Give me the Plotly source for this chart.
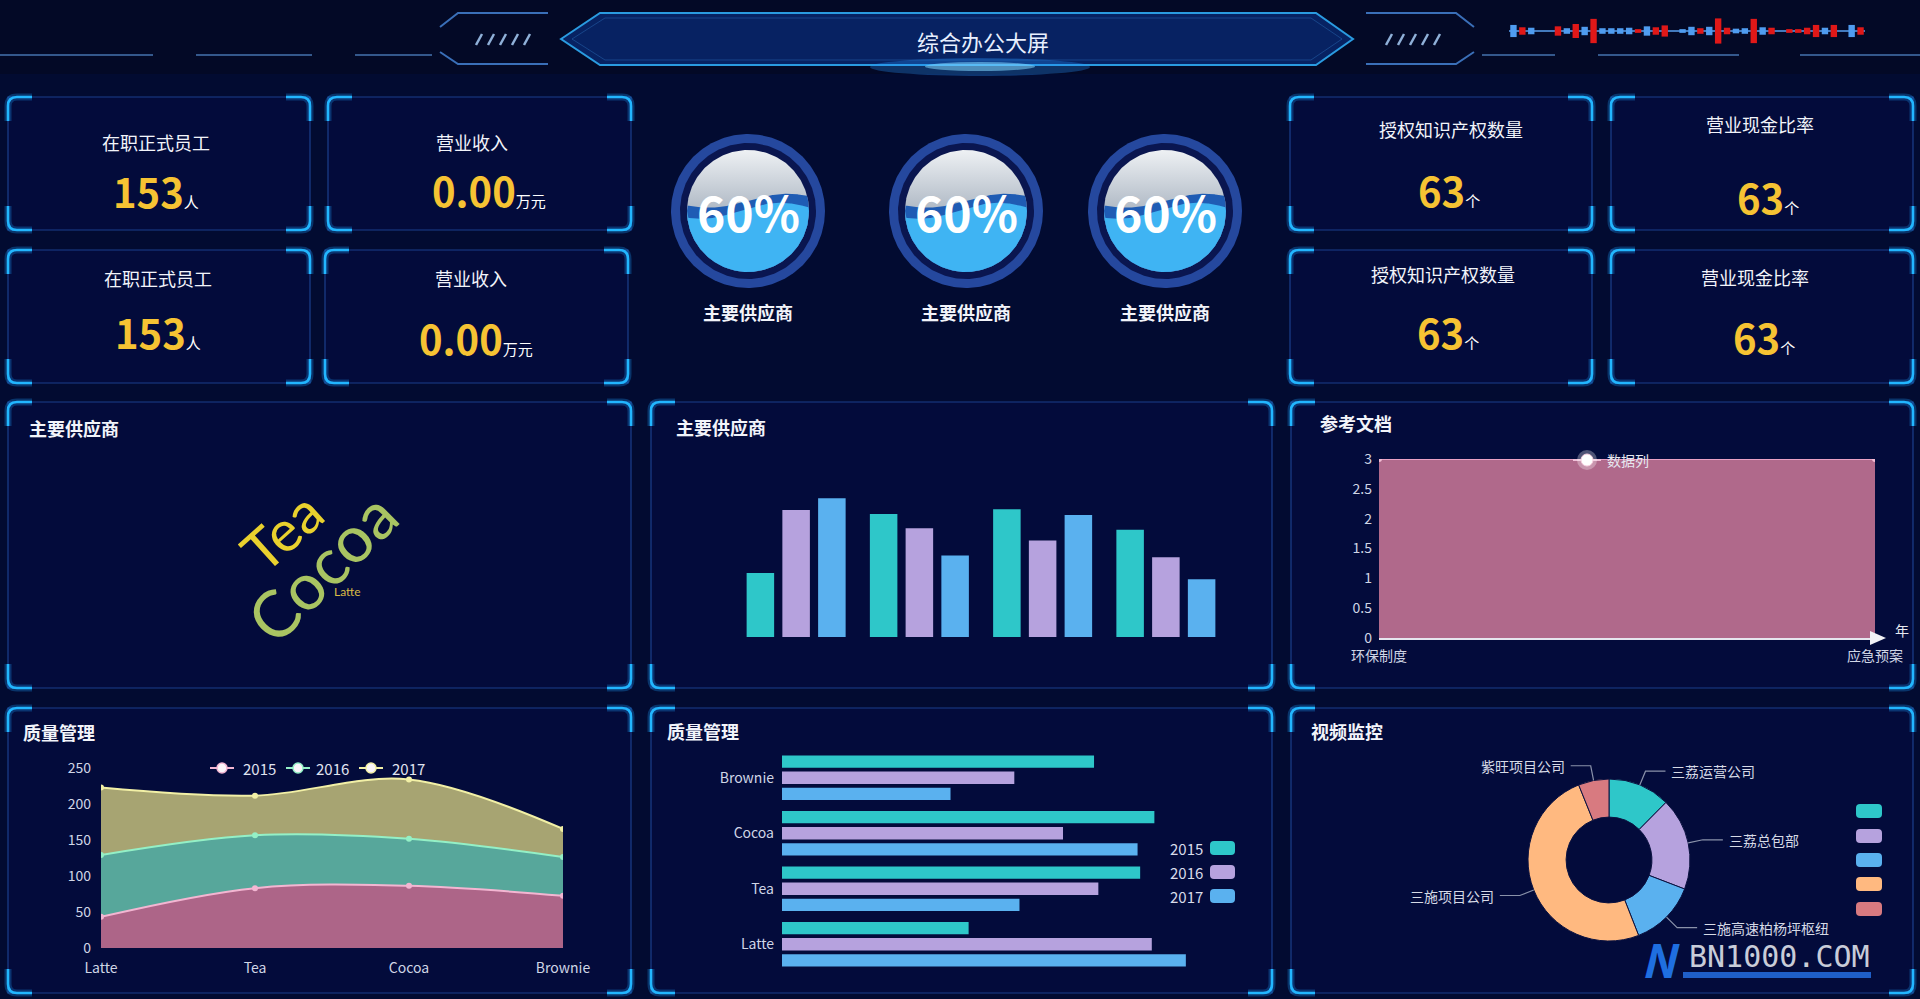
import numpy as np
import plotly.graph_objects as go

W, H = 1920, 999

# ---------------- data ----------------
header_title = "综合办公大屏"

kpi_titles = ["在职正式员工", "营业收入", "在职正式员工", "营业收入",
              "授权知识产权数量", "营业现金比率", "授权知识产权数量", "营业现金比率"]
kpi_values = ["153", "0.00", "153", "0.00", "63", "63", "63", "63"]
kpi_units = ["人", "万元", "人", "万元", "个", "个", "个", "个"]

gauge_values = [0.6, 0.6, 0.6]
gauge_labels = ["主要供应商", "主要供应商", "主要供应商"]

panel_titles = ["主要供应商", "主要供应商", "参考文档", "质量管理", "质量管理", "视频监控"]

cloud_words = ["Tea", "Cocoa", "Latte"]
cloud_weights = [95, 108, 20]

products = ["Latte", "Tea", "Cocoa", "Brownie"]
years = ["2015", "2016", "2017"]
sales_2015 = [43.3, 83.1, 86.4, 72.4]
sales_2016 = [85.8, 73.4, 65.2, 53.9]
sales_2017 = [93.7, 55.1, 82.5, 39.1]

doc_categories = ["环保制度", "应急预案"]
doc_values = [3, 3]
doc_series_name = "数据列"
doc_axis_name = "年"
doc_ticks = [0, 0.5, 1, 1.5, 2, 2.5, 3]

quality_ticks = [0, 50, 100, 150, 200, 250]

donut_labels = ["三荔运营公司", "三荔总包部", "三施高速柏杨坪枢纽", "三施项目公司", "紫旺项目公司"]
donut_values = [12.4, 18.4, 13.2, 49.8, 6.1]

signal_levels = [13, 8, 7, 0, 0, 10, 6, 15, 9, 26, 6, 6, 6, 7, 4, 10, 8, 12, 0, 4,
                 9, 6, 9, 27, 7, 5, 6, 26, 8, 7, 0, 4, 4, 7, 13, 7, 13, 0, 13, 8]
signal_kinds = ["B", "R", "B", "B", "B", "R", "B", "R", "B", "R",
                "B", "B", "B", "B", "R", "B", "R", "R", "B", "B",
                "B", "R", "B", "R", "R", "B", "B", "R", "B", "R",
                "R", "R", "R", "R", "R", "B", "R", "B", "B", "R"]

# ---------------- style ----------------
FONT = "Noto Sans CJK SC, Noto Sans, sans-serif"
BG = "#020b31"
PANEL_BG = "#030b3b"
C2015, C2016, C2017 = "#2ec7c9", "#b6a2de", "#5ab1ef"
DONUT_COLORS = ["#2ec7c9", "#b6a2de", "#5ab1ef", "#ffb980", "#d87a80"]
TICK = "#d0d6e6"

shapes, annotations, traces = [], [], []


def X(x):
    return x / W


def Y(y):
    return 1 - y / H


def pt(x, y):
    return f"{X(x):.5f},{Y(y):.5f}"


def rect_shape(x0, y0, x1, y1, fill, line_color=None, line_width=0, layer="below"):
    shapes.append(dict(type="rect", xref="paper", yref="paper", x0=X(x0), x1=X(x1),
                       y0=Y(y1), y1=Y(y0), fillcolor=fill,
                       line=dict(color=line_color or "rgba(0,0,0,0)", width=line_width),
                       layer=layer))


def path_shape(d, color=None, width=0, fill=None, layer="below"):
    s = dict(type="path", xref="paper", yref="paper", path=d, layer=layer,
             line=dict(color=color or "rgba(0,0,0,0)", width=width))
    if fill:
        s["fillcolor"] = fill
    shapes.append(s)


def round_rect(x0, y0, x1, y1, r, fill, layer="above"):
    d = (f"M {pt(x0 + r, y0)} L {pt(x1 - r, y0)} Q {pt(x1, y0)} {pt(x1, y0 + r)} "
         f"L {pt(x1, y1 - r)} Q {pt(x1, y1)} {pt(x1 - r, y1)} L {pt(x0 + r, y1)} "
         f"Q {pt(x0, y1)} {pt(x0, y1 - r)} L {pt(x0, y0 + r)} Q {pt(x0, y0)} {pt(x0 + r, y0)} Z")
    path_shape(d, fill=fill, layer=layer)


def text(x, y, s, size=14, color="#ffffff", xanchor="center", yanchor="middle",
         bold=False, family=FONT, angle=0, xref="paper", yref="paper"):
    if bold:
        s = f"<b>{s}</b>"
    annotations.append(dict(
        x=X(x) if xref == "paper" else x, y=Y(y) if yref == "paper" else y,
        xref=xref, yref=yref, text=s, showarrow=False, xanchor=xanchor, yanchor=yanchor,
        textangle=angle, font=dict(size=size, color=color, family=family)))


def panel(x0, y0, x1, y1):
    rect_shape(x0, y0, x1, y1, PANEL_BG, "#1b3f8c", 1.2)
    r, L = 9, 24
    corners = [
        f"M {pt(x0, y0 + L)} L {pt(x0, y0 + r)} Q {pt(x0, y0)} {pt(x0 + r, y0)} L {pt(x0 + L, y0)}",
        f"M {pt(x1 - L, y0)} L {pt(x1 - r, y0)} Q {pt(x1, y0)} {pt(x1, y0 + r)} L {pt(x1, y0 + L)}",
        f"M {pt(x0, y1 - L)} L {pt(x0, y1 - r)} Q {pt(x0, y1)} {pt(x0 + r, y1)} L {pt(x0 + L, y1)}",
        f"M {pt(x1 - L, y1)} L {pt(x1 - r, y1)} Q {pt(x1, y1)} {pt(x1, y1 - r)} L {pt(x1, y1 - L)}",
    ]
    for d in corners:
        path_shape(d, "rgba(30,160,255,0.28)", 7)
        path_shape(d, "#22b6ff", 2.6)


# ---------------- header ----------------
rect_shape(0, 0, W, 74, "#030926")
hexagon = (f"M {pt(561, 39)} L {pt(600, 13)} L {pt(1316, 13)} L {pt(1353, 39)} "
           f"L {pt(1316, 65)} L {pt(600, 65)} Z")
path_shape(hexagon, "#2a9be0", 2, fill="rgba(8,38,105,0.9)")
hex_in = (f"M {pt(572, 39)} L {pt(605, 18)} L {pt(1311, 18)} L {pt(1342, 39)} "
          f"L {pt(1311, 60)} L {pt(605, 60)} Z")
path_shape(hex_in, "rgba(70,170,255,0.25)", 1)
shapes.append(dict(type="circle", xref="paper", yref="paper", x0=X(870), x1=X(1090),
                   y0=Y(76), y1=Y(58), fillcolor="rgba(40,150,255,0.30)", line=dict(width=0),
                   layer="below"))
shapes.append(dict(type="circle", xref="paper", yref="paper", x0=X(925), x1=X(1035),
                   y0=Y(71), y1=Y(62), fillcolor="rgba(130,215,255,0.55)", line=dict(width=0),
                   layer="below"))
path_shape(f"M {pt(548, 13)} L {pt(458, 13)} L {pt(440, 27)}", "#3a6fb8", 2)
path_shape(f"M {pt(440, 52)} L {pt(458, 64)} L {pt(548, 64)}", "#3a6fb8", 2)
path_shape(f"M {pt(1366, 13)} L {pt(1456, 13)} L {pt(1474, 27)}", "#3a6fb8", 2)
path_shape(f"M {pt(1474, 52)} L {pt(1456, 64)} L {pt(1366, 64)}", "#3a6fb8", 2)
for k in range(5):
    xl = 476 + k * 12
    path_shape(f"M {pt(xl, 45)} L {pt(xl + 6, 34)}", "#8fb0d8", 2.5)
    xr = 1386 + k * 12
    path_shape(f"M {pt(xr, 45)} L {pt(xr + 6, 34)}", "#8fb0d8", 2.5)
for a, b in [(0, 153), (196, 312), (355, 432), (1482, 1555), (1598, 1739), (1800, 1920)]:
    path_shape(f"M {pt(a, 55)} L {pt(b, 55)}", "#34588c", 2)
text(983, 41, header_title, size=22, color="#e8f0ff")

# signal strip (top right)
path_shape(f"M {pt(1509, 31)} L {pt(1865, 31)}", "#5aa0f0", 1.5)
traces.append(go.Bar(
    x=list(range(len(signal_levels))), y=signal_levels,
    base=[-v / 2 for v in signal_levels], width=0.72,
    marker=dict(color=["#4f9cf0" if k == "B" else "#e01818" for k in signal_kinds], line=dict(width=0)),
    xaxis="x8", yaxis="y8", showlegend=False, hoverinfo="skip"))

# ---------------- KPI cards ----------------
cards = [(8, 97, 310, 230), (328, 97, 631, 230), (8, 250, 310, 383), (325, 250, 628, 383),
         (1290, 97, 1592, 230), (1611, 97, 1913, 230), (1290, 250, 1592, 383), (1611, 250, 1913, 383)]
card_text_pos = [(156, 142, 156, 191), (472, 142, 489, 190), (158, 278, 158, 332), (471, 278, 476, 338),
                 (1451, 129, 1449, 190), (1760, 124, 1768, 197), (1443, 274, 1448, 332), (1755, 277, 1764, 337)]
for box in cards:
    panel(*box)
for (tx, ty, vx, vy), t, v, u in zip(card_text_pos, kpi_titles, kpi_values, kpi_units):
    text(tx, ty, t, size=18, color="#f2f4fa")
    annotations.append(dict(
        x=X(vx), y=Y(vy), xref="paper", yref="paper", showarrow=False,
        xanchor="center", yanchor="middle",
        text=f"<b>{v}</b><span style='font-size:15px;color:#ffffff'>{u}</span>",
        font=dict(size=40, color="#f6c333", family=FONT)))

# ---------------- gauges ----------------
gauge_centers = [(748, 211), (966, 211), (1165, 211)]
R_OUT, R_GAP, R_LIQ = 77, 68, 61
tt = np.linspace(0, 2 * np.pi, 241)


def wave_poly(level, amp, phase, R, n=181):
    xs = np.linspace(-R, R, n)
    half = np.sqrt(np.maximum(R ** 2 - xs ** 2, 0))
    top = np.clip(level + amp * np.sin(np.pi * xs / (1.3 * R) + phase), -half, half)
    return np.concatenate([xs, xs[::-1]]), np.concatenate([top, -half[::-1]])


for i, ((cx, cy), v, lab) in enumerate(zip(gauge_centers, gauge_values, gauge_labels)):
    n = i + 1
    xa = "x" if n == 1 else f"x{n}"
    ya = "y" if n == 1 else f"y{n}"
    for r, col in [(R_OUT, "#25489e"), (R_GAP, "#0a1650")]:
        traces.append(go.Scatter(x=r * np.cos(tt), y=r * np.sin(tt), fill="toself", fillcolor=col,
                                 mode="lines", line=dict(width=0), xaxis=xa, yaxis=ya,
                                 showlegend=False, hoverinfo="skip"))
    traces.append(go.Scatter(x=R_LIQ * np.cos(tt), y=R_LIQ * np.sin(tt), fill="toself",
                             fillgradient=dict(type="vertical",
                                               colorscale=[[0, "#7c8a9e"], [0.5, "#aeb8c4"], [1, "#eef1f4"]]),
                             mode="lines", line=dict(width=0), xaxis=xa, yaxis=ya,
                             showlegend=False, hoverinfo="skip"))
    level = -R_LIQ + 2 * R_LIQ * v
    bx, by = wave_poly(level - 2, 7, 0.0, R_LIQ)
    traces.append(go.Scatter(x=bx, y=by, fill="toself", fillcolor="#1f5cb4", mode="lines",
                             line=dict(width=0), xaxis=xa, yaxis=ya, showlegend=False, hoverinfo="skip"))
    fx, fy = wave_poly(level - 12, 8, 0.3, R_LIQ)
    traces.append(go.Scatter(x=fx, y=fy, fill="toself", fillcolor="#3fb4f3", mode="lines",
                             line=dict(width=0), xaxis=xa, yaxis=ya, showlegend=False, hoverinfo="skip"))
    pct = f"{round(v * 100)}%"
    text(0, 0, pct, size=48, color="#ffffff", bold=True, xref=xa, yref=ya)
    text(cx, 312, lab, size=18, color="#f2f4fa", bold=True)

# ---------------- big panels ----------------
big_panels = [(8, 402, 631, 688), (651, 402, 1272, 688), (1291, 402, 1913, 688),
              (8, 708, 631, 993), (651, 708, 1272, 993), (1291, 708, 1913, 993)]
title_pos = [(27, 428), (674, 427), (1318, 423), (21, 732), (665, 731), (1309, 731)]
for box in big_panels:
    panel(*box)
for (tx, ty), t in zip(title_pos, panel_titles):
    text(tx, ty, t, size=18, color="#f2f4fa", xanchor="left", bold=True)

# word cloud
cloud_pos = [(281, 531), (321, 567), (347, 591)]
cloud_angles = [-42, -45, 0]
cloud_colors = ["#e9d12e", "#a9c462", "#d9bb45"]
for (wx, wy), w, wt, ang, col in zip(cloud_pos, cloud_words, cloud_weights, cloud_angles, cloud_colors):
    text(wx, wy, w, size=round(wt * 0.6), color=col, angle=ang, family="Lato, Noto Sans, sans-serif")

# vertical grouped bars
for yr, vals, col in zip(years, [sales_2015, sales_2016, sales_2017], [C2015, C2016, C2017]):
    traces.append(go.Bar(x=products, y=vals, name=yr, marker=dict(color=col, line=dict(width=0)),
                         xaxis="x4", yaxis="y4", showlegend=False))

# reference document area
traces.append(go.Scatter(x=doc_categories, y=doc_values, name=doc_series_name, mode="lines+markers",
                         fill="tozeroy", fillcolor="#b0698b", line=dict(color="#eaa2c4", width=2),
                         marker=dict(size=6, color="#f3bcd4"), xaxis="x5", yaxis="y5", showlegend=False))
path_shape(f"M {pt(1870, 631)} L {pt(1886, 638)} L {pt(1870, 645)} Z", fill="#f2f2f6", layer="above")
text(1893, 630, doc_axis_name, size=14, color="#e6e8f0", xanchor="left")
path_shape(f"M {pt(1573, 460)} L {pt(1601, 460)}", "#f0c0d8", 2, layer="above")
shapes.append(dict(type="circle", xref="paper", yref="paper", x0=X(1577), x1=X(1597), y0=Y(470), y1=Y(450),
                   fillcolor="rgba(255,255,255,0.3)", line=dict(width=0), layer="above"))
shapes.append(dict(type="circle", xref="paper", yref="paper", x0=X(1581), x1=X(1593), y0=Y(466), y1=Y(454),
                   fillcolor="#ffffff", line=dict(width=1, color="#f8d0e0"), layer="above"))
text(1605, 460, doc_series_name, size=14, color="#e6e8f0", xanchor="left")

# stacked smooth area
area_fills = ["rgba(182,106,140,0.95)", "rgba(92,176,160,0.95)", "rgba(176,173,117,0.95)"]
area_lines = ["#f3b6d2", "#94f0c6", "#f2f0a6"]
for yr, vals, fc, lc in zip(years, [sales_2015, sales_2016, sales_2017], area_fills, area_lines):
    traces.append(go.Scatter(x=products, y=vals, name=yr, stackgroup="q", mode="lines+markers",
                             line=dict(color=lc, width=2, shape="spline", smoothing=1.0),
                             marker=dict(size=6, color=lc), fillcolor=fc,
                             xaxis="x6", yaxis="y6", showlegend=False))
for yr, lc, ix, tx in zip(years, area_lines, [222, 298, 371], [241, 314, 390]):
    path_shape(f"M {pt(ix - 12, 768)} L {pt(ix + 12, 768)}", lc, 2, layer="above")
    shapes.append(dict(type="circle", xref="paper", yref="paper", x0=X(ix - 5), x1=X(ix + 5),
                       y0=Y(773), y1=Y(763), fillcolor="#fbf6fa", line=dict(width=1.5, color=lc),
                       layer="above"))
    text(tx, 768, yr, size=15, color="#e0e4f0", xanchor="left")

# horizontal grouped bars (2015 on top within each group)
for yr, vals, col in list(zip(years, [sales_2015, sales_2016, sales_2017], [C2015, C2016, C2017]))[::-1]:
    traces.append(go.Bar(y=products, x=vals, name=yr, orientation="h",
                         marker=dict(color=col, line=dict(width=0)),
                         xaxis="x7", yaxis="y7", showlegend=False))
for yr, col, ly in zip(years, [C2015, C2016, C2017], [848, 872, 896]):
    text(1205, ly, yr, size=15, color="#d8dcea", xanchor="right")
    round_rect(1210, ly - 7, 1235, ly + 7, 4, col)

# donut
PCX, PCY, PR = 1609, 860, 81
traces.append(go.Pie(labels=donut_labels, values=donut_values, hole=0.53, sort=False,
                     direction="clockwise", rotation=0, textinfo="none",
                     marker=dict(colors=DONUT_COLORS, line=dict(color="#0b1240", width=1)),
                     domain=dict(x=[X(PCX - PR), X(PCX + PR)], y=[Y(PCY + PR), Y(PCY - PR)]),
                     showlegend=False))
vals = np.array(donut_values, dtype=float)
fr = vals / vals.sum()
starts = np.concatenate([[0], np.cumsum(fr)[:-1]])
for lab, s, f in zip(donut_labels, starts, fr):
    a = np.radians((s + f / 2) * 360)
    p0 = (PCX + PR * np.sin(a), PCY - PR * np.cos(a))
    p1 = (PCX + (PR + 15) * np.sin(a), PCY - (PR + 15) * np.cos(a))
    side = 1 if np.sin(a) >= 0 else -1
    p2 = (p1[0] + side * 20, p1[1])
    path_shape(f"M {pt(*p0)} L {pt(*p1)} L {pt(*p2)}", "#8a92aa", 1.2, layer="above")
    text(p2[0] + side * 4, p2[1], lab, size=14, color="#d6dae6",
         xanchor="left" if side > 0 else "right")
for col, ly in zip(DONUT_COLORS, [811, 836, 860, 884, 909]):
    round_rect(1856, ly - 7, 1882, ly + 7, 4, col)

# watermark
text(1660, 958, "<b><i>N</i></b>", size=46, color="#1f6fe0")
text(1779, 956, "BN1000.COM", size=30, color="#c8ccd8", family="DejaVu Sans Mono, monospace")
rect_shape(1683, 972, 1871, 978, "#1f5fc8", layer="above")

# ---------------- layout ----------------
layout = dict(
    width=W, height=H, margin=dict(l=0, r=0, t=0, b=0, pad=0, autoexpand=False), autosize=False,
    paper_bgcolor=BG, plot_bgcolor="rgba(0,0,0,0)",
    font=dict(family=FONT, color=TICK),
    barmode="group", bargap=0.13, bargroupgap=0.23,
    shapes=shapes, annotations=annotations, showlegend=False, hovermode=False,
)

hidden = dict(visible=False, showgrid=False, zeroline=False, fixedrange=True, automargin=False)
shown = dict(showgrid=False, zeroline=False, fixedrange=True, automargin=False, ticks="",
             tickfont=dict(size=14, color=TICK))

for i, (cx, cy) in enumerate(gauge_centers):
    n = i + 1
    xk = "xaxis" if n == 1 else f"xaxis{n}"
    yk = "yaxis" if n == 1 else f"yaxis{n}"
    layout[xk] = dict(hidden, domain=[X(cx - 80), X(cx + 80)], range=[-80, 80],
                      anchor="y" if n == 1 else f"y{n}")
    layout[yk] = dict(hidden, domain=[Y(cy + 80), Y(cy - 80)], range=[-80, 80],
                      anchor="x" if n == 1 else f"x{n}")

layout["xaxis4"] = dict(hidden, type="category", domain=[X(734.5), X(1227.5)], range=[-0.5, 3.5], anchor="y4")
layout["yaxis4"] = dict(hidden, domain=[Y(637), Y(489)], range=[0, 100], anchor="x4")

layout["xaxis5"] = dict(shown, type="category", domain=[X(1379), X(1875)], range=[0, 1], anchor="y5",
                        showline=True, linecolor="#e6e6ee", linewidth=1.5, ticklabelstandoff=5)
layout["yaxis5"] = dict(shown, domain=[Y(638), Y(459)], range=[0, 3], anchor="x5", tickvals=doc_ticks,
                        showline=False, ticklabelstandoff=6)

layout["xaxis6"] = dict(shown, type="category", domain=[X(101), X(563)], range=[0, 3], anchor="y6",
                        showline=False, ticklabelstandoff=10)
layout["yaxis6"] = dict(shown, domain=[Y(948), Y(768)], range=[0, 250], anchor="x6", tickvals=quality_ticks,
                        showline=False, ticklabelstandoff=9)

layout["xaxis7"] = dict(hidden, domain=[X(782), X(1213)], range=[0, 100], anchor="y7")
layout["yaxis7"] = dict(shown, type="category", domain=[Y(972), Y(750)], range=[-0.5, 3.5], anchor="x7",
                        showline=False, ticklabelstandoff=7)

layout["xaxis8"] = dict(hidden, domain=[X(1509), X(1865)], range=[-0.5, len(signal_levels) - 0.5], anchor="y8")
layout["yaxis8"] = dict(hidden, domain=[Y(45), Y(17)], range=[-15, 15], anchor="x8")

fig = go.Figure(data=traces, layout=layout)
fig.write_html(
    "out.html",
    config={"displayModeBar": False, "staticPlot": True},
    post_script="document.body.style.margin='0';document.body.style.overflow='hidden';"
                "document.body.style.background='#020b31';",
)
